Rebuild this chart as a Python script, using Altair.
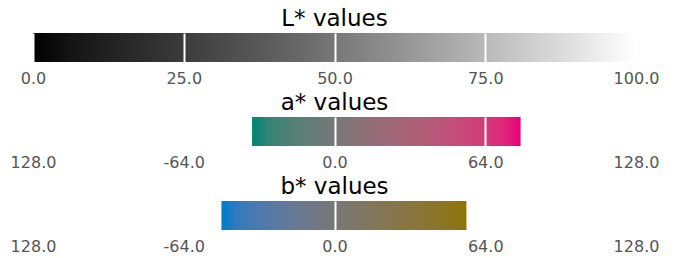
import altair as alt
import pandas as pd

# --- data ---
L_range = [0, 100]          # extent of the L* bar
a_range = [-35, 79]         # extent of the a* bar (in-gamut part)
b_range = [-48, 56]         # extent of the b* bar (in-gamut part)
L_ticks = [0, 25, 50, 75, 100]
ab_ticks = [-128, -64, 0, 64, 128]
L_domain = [0, 100]
ab_domain = [-128, 128]
titles = ["L* values", "a* values", "b* values"]
LIGHTNESS = 50


def lab_to_hex(L, a, b):
    fy = (L + 16) / 116
    fx = fy + a / 500
    fz = fy - b / 200

    def finv(t):
        return t ** 3 if t > 6 / 29 else 3 * (6 / 29) ** 2 * (t - 4 / 29)

    X = 0.95047 * finv(fx)
    Y = 1.0 * finv(fy)
    Z = 1.08883 * finv(fz)
    r = 3.2406 * X - 1.5372 * Y - 0.4986 * Z
    g = -0.9689 * X + 1.8758 * Y + 0.0415 * Z
    bb = 0.0557 * X - 0.2040 * Y + 1.0570 * Z

    def gam(c):
        c = min(max(c, 0.0), 1.0)
        c = 12.92 * c if c <= 0.0031308 else 1.055 * c ** (1 / 2.4) - 0.055
        return int(round(min(max(c, 0.0), 1.0) * 255))

    return "#%02x%02x%02x" % (gam(r), gam(g), gam(bb))


def gradient(lo, hi, fn, n=16):
    stops = []
    for i in range(n + 1):
        t = i / n
        v = lo + (hi - lo) * t
        stops.append(alt.GradientStop(color=fn(v), offset=t))
    return alt.LinearGradient(gradient="linear", stops=stops, x1=0, x2=1, y1=0, y2=0)


FONT = "DejaVu Sans"
W = 603
H = 29

minus_expr = ("datum.value == -128 ? '128.0' : (datum.value < 0 ? '-' + format(-datum.value, '.1f') "
              ": format(datum.value, '.1f'))")


def row(title, rng, domain, ticks, fn, label_expr=None):
    df = pd.DataFrame({"start": [rng[0]], "end": [rng[1]]})
    axis_kwargs = dict(
        values=ticks, format=".1f", title=None, grid=True, gridColor="white",
        gridWidth=2, gridOpacity=1, ticks=False, tickSize=0, domain=False,
        labelFont=FONT, labelFontSize=16, labelColor="#555555", labelPadding=8,
        zindex=1, labelFlush=False, labelOverlap=False,
    )
    if label_expr:
        axis_kwargs["labelExpr"] = label_expr
    return alt.Chart(df).mark_rect(color=gradient(rng[0], rng[1], fn)).encode(
        x=alt.X("start:Q", scale=alt.Scale(domain=domain, nice=False, zero=False),
                axis=alt.Axis(**axis_kwargs)),
        x2="end:Q",
    ).properties(
        width=W, height=H,
        title=alt.TitleParams(title, font=FONT, fontSize=23, fontWeight="normal",
                              color="black", anchor="middle", offset=2),
    )


c1 = row(titles[0], L_range, L_domain, L_ticks, lambda v: lab_to_hex(v, 0, 0))
c2 = row(titles[1], a_range, ab_domain, ab_ticks, lambda v: lab_to_hex(LIGHTNESS, v, 0), minus_expr)
c3 = row(titles[2], b_range, ab_domain, ab_ticks, lambda v: lab_to_hex(LIGHTNESS, 0, v), minus_expr)

chart = alt.vconcat(c1, c2, c3, spacing=6).properties(
    padding={"left": 2, "top": 0, "right": 5, "bottom": 0},
    background="white",
).configure_view(stroke="transparent", strokeWidth=0)

chart.save("out.html", embed_options={"renderer": "svg", "actions": False})
